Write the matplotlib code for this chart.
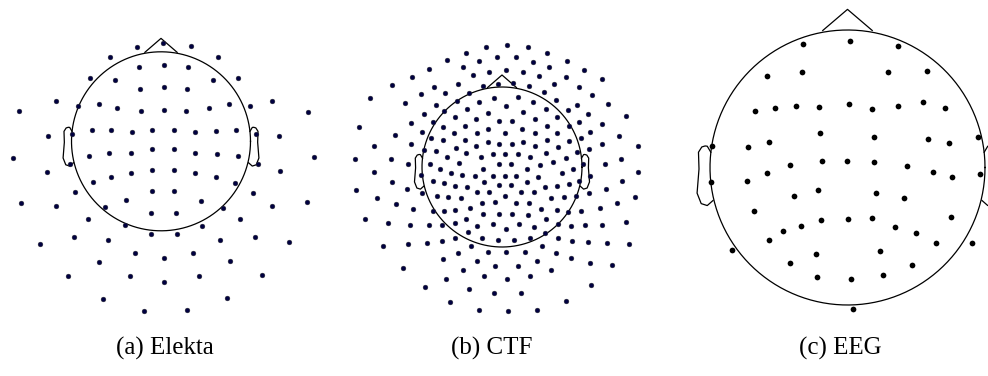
import numpy as np
import matplotlib
matplotlib.use("Agg")
import matplotlib.pyplot as plt

# sensor positions (pixel coordinates, y down)
elekta_xy = [
    (136.7, 46.7), (191, 46.3), (163.3, 42.7),
    (110, 56.7), (217.7, 56.7),
    (139.3, 67.3), (163.5, 64.7), (187.7, 67.3),
    (90, 78), (237.7, 78), (114.7, 80), (213, 80),
    (140, 89.3), (163.5, 86.7), (186.7, 89.3),
    (56, 100.7), (272.3, 101), (77.7, 106), (250.3, 106), (98.7, 103.7), (229, 103.7),
    (117.3, 108), (209.3, 108), (141, 110.7), (163.5, 110), (185.7, 110.7), (18.7, 111.3), (308.3, 111.7),
    (48.3, 135.7), (279.3, 136), (71.7, 134.3), (255.7, 134.3), (91.7, 130), (236, 130),
    (111.3, 130.3), (216, 130.7), (132, 131.7), (195, 131.7), (152.3, 130), (173.7, 130),
    (12.7, 157.7), (314, 157.3), (70, 164), (257.7, 163.7), (89.3, 156), (238, 156.3),
    (109.3, 153.3), (217.3, 153.7), (131, 153), (195.3, 152.7), (152.3, 149.3), (173.7, 149.3),
    (47.3, 171.7), (280.3, 171.3), (111, 176.7), (216, 177.3), (131.3, 173.3), (195, 173.3), (152.3, 170), (173.7, 170),
    (92.7, 182.3), (235, 183), (75.3, 192.3), (252.7, 192.7), (152, 190.7), (174.3, 191),
    (20.7, 203), (307, 201.7), (56.3, 206.3), (271.7, 205.7), (126, 200), (200.7, 200.7),
    (105, 207.3), (222.7, 207.7), (150.7, 212.7), (176, 213),
    (88.3, 219), (239.7, 219), (124.7, 225.3), (202.3, 225.7), (73.7, 237.3), (254.7, 236.7),
    (108.3, 240.3), (219.7, 240.3), (150.7, 233.7), (176.7, 234),
    (39.7, 243.7), (289, 241.7), (134.7, 253.3), (193, 253.3), (163.5, 257.5), (98.7, 262), (230, 261.3),
    (67.7, 276.3), (261.7, 274.7), (130, 276.3), (198.7, 276), (163.5, 281.7),
    (103.3, 299.3), (227, 298.3), (143.7, 311), (186.7, 310.3),
]

ctf_xy = [
    # upper left
    (486, 46.7), (466, 52.7), (446.7, 60), (479.3, 61.3), (429.3, 69.3), (463.3, 66.7), (488.7, 71.7),
    (412, 77.3), (473.3, 75.3), (392, 85.3), (434.3, 86.7), (458, 84.3), (483.3, 85.7),
    (420.7, 94.3), (445.3, 93.3), (468.7, 93), (370, 98), (405, 103), (435.7, 104.7), (456.7, 101), (478.7, 102.3),
    (424.3, 113.7), (444.3, 111), (466.7, 109.3), (488, 112.7), (410.7, 123), (433.3, 122.3), (455.3, 117.3), (476, 119),
    (358.7, 127.3), (394.7, 135.3), (422.3, 132), (442.7, 126.7), (465.3, 126.3), (488, 128.7),
    (431.3, 138.3), (454.3, 133), (476.7, 133.3), (374.3, 145.7), (410.7, 143.7), (443.3, 140), (465.3, 140.3), (487.7, 142.3),
    (424.3, 150), (436, 151.3), (456, 147.7), (476, 146.3), (354.7, 158.7), (391, 158.7), (407.7, 164), (430, 164.3),
    (447.3, 157.3), (466, 153.3), (481.3, 157.3), (440, 169.3), (458.7, 162.7), (483.3, 168.7),
    (374.3, 172), (420.7, 174.5), (451, 173.3), (461.7, 175), (475, 175.5),
    # upper right
    (506.7, 45), (527.7, 47.3), (497.3, 57.3), (516, 57.3), (547.3, 53.3), (533.3, 61.7), (566.7, 61),
    (506, 70), (522.7, 71.7), (549.3, 67), (539, 75.7), (566, 77.3), (584.3, 70),
    (498, 84), (513.3, 83.3), (528.7, 86), (554.3, 84), (578.7, 87), (601.7, 78.7),
    (494, 97.7), (517.7, 97.3), (533.3, 101.7), (544, 92.3), (556, 100.3), (592.3, 95.3),
    (505.7, 106.3), (523.3, 112.3), (545.7, 109), (567.7, 110.3), (577.3, 104.7), (608.3, 103.7),
    (499, 121), (512, 121), (535.3, 119), (556.7, 117.3), (579, 122), (588, 114), (626, 116),
    (505.3, 133), (522.3, 128.7), (546.7, 126), (569, 126.3), (590.3, 132.3), (602.3, 123.7),
    (499.3, 144), (511.7, 144), (523.3, 141.7), (535, 133), (535, 146), (546.7, 140), (556.7, 132.7),
    (569, 141), (580.7, 138), (602.3, 144), (618.7, 136), (638, 145.7),
    (493.3, 154.3), (505.3, 154.3), (517.7, 154), (530, 157.3), (546, 153), (557.7, 147.3), (553, 162),
    (566, 157.7), (576.7, 151.7), (588.7, 149.3), (621.3, 158.7),
    (499.3, 164), (511.3, 164.3), (527.3, 169), (540, 164.7), (561.7, 172.7), (572.7, 169.3), (583, 164),
    (605, 164), (638, 171.7),
    (493.3, 175.5), (505, 175.5), (516, 175.5), (537.7, 176.5), (590, 175.5),
    # lower left
    (391.7, 181.7), (356, 189.7), (406.7, 189), (422, 193.3), (433.3, 181), (444, 183.3), (454.7, 186.3),
    (466.7, 187.3), (484.3, 181.7), (477.3, 191.7), (377.3, 198.3), (437.3, 196.3), (448.3, 196.7),
    (460.7, 198), (482.3, 202.7), (395.7, 204.3), (413, 209), (432.7, 211.3), (444, 211.3), (455, 210),
    (470.3, 208.3), (483.3, 214.3), (365, 219), (388, 223.3), (410.3, 225.3), (429, 225.3), (442.3, 225),
    (454.7, 223), (466, 218.7), (468, 232), (477.3, 225.7), (482, 238.3), (383.3, 245.7), (407.7, 244.3),
    (426.7, 243), (442, 241), (455.3, 237.7), (471, 246), (487.7, 252), (457.7, 253.3), (443, 258.7),
    (476.7, 261), (403.3, 267.7), (462.7, 270), (484.3, 276.3), (445.7, 279.3), (425, 287.3),
    (469, 289.3), (450.3, 302), (478.7, 310.3),
    # lower right
    (526.7, 181.7), (568.7, 183.7), (579.3, 181), (621.7, 181), (499.3, 185), (511.3, 185), (545.3, 187.3),
    (556.7, 186.3), (606.3, 188.7), (489, 191.7), (505.3, 196), (521.3, 192.3), (533.7, 191.7),
    (550.7, 197.7), (564, 197.3), (576, 196), (589.3, 193), (617, 203), (635.3, 196.7),
    (495, 202.3), (516, 203), (528.7, 203), (541, 208.7), (557.3, 210.3), (568.3, 212.3), (580.7, 211),
    (600.3, 208), (499, 214.3), (512, 214), (528.3, 215), (545.7, 219.3), (492.7, 224.3), (506, 228.7),
    (519, 224.3), (534.3, 226.7), (558, 224), (571, 225.7), (584.7, 225), (602.3, 225), (625.7, 221.7),
    (544.7, 232.7), (498.3, 240), (513.7, 240), (530.3, 238.3), (557.7, 237.7), (571.7, 241),
    (587.7, 242), (606.7, 242.7), (628.7, 244), (542, 246.3), (506.3, 252), (525, 252.3), (555.7, 253.3),
    (571, 258), (590, 262.7), (612.3, 265), (495, 265.7), (518.3, 266), (537, 261), (551.3, 270),
    (507, 279), (530, 276), (591, 285.3), (494, 293.3), (520.7, 293.3), (566, 301), (508, 311.3), (537.3, 309.7),
]

eeg_xy = [
    (803, 44.3), (766.7, 76.3), (802.3, 72), (754.7, 111), (774.7, 108), (796, 106), (818.7, 106.7),
    (820, 132.7), (711.7, 146.3), (748, 146.7), (768.7, 142), (790, 164.5), (821.7, 161.3),
    (850.3, 40.7), (898.3, 45.7), (887.7, 72), (927.3, 70.7), (848.7, 104), (872, 108.7), (898.3, 105.7),
    (923, 102.3), (945.3, 107.7), (874.3, 137.3), (928, 139.3), (949.3, 143.3), (977.7, 137.3),
    (847.3, 161.3), (873.7, 162), (907.3, 166),
    (766.7, 172.7), (710.7, 182.3), (746.7, 181), (794.3, 196), (818.3, 190), (754.3, 211.3), (820.7, 220),
    (801, 225.7), (783, 231), (769.3, 240.3), (732, 250.3), (816.3, 254), (790, 263), (817, 276.7),
    (933.3, 172), (952.3, 177), (980.3, 174), (875.7, 193.3), (903.7, 198.3), (848, 219.3), (872, 218),
    (894.7, 226.7), (915.7, 233.3), (950.7, 216.7), (935.7, 243), (971.7, 243.3), (880.3, 251.3),
    (911.7, 265.3), (850.7, 279), (883, 275), (853, 309.3),
]

captions = ["(a) Elekta", "(b) CTF", "(c) EEG"]
caption_x = [165, 492, 840]
head_centers = [(161, 141.3), (502, 167), (847.5, 167.5)]
head_radii = [89.5, 80, 137.5]

W, H = 988, 376
fig = plt.figure(figsize=(W / 100, H / 100), dpi=100)

ear_x = np.array([.497, .510, .518, .5299, .5419, .54, .547, .532, .510, .489])
ear_y = np.array([.0555, .0775, .0783, .0746, .0555, -.0055, -.0932, -.1313, -.1384, -.1199])


def panel(x0, x1):
    ax = fig.add_axes([x0 / W, 0, (x1 - x0) / W, 1])
    ax.set_xlim(x0, x1)
    ax.set_ylim(H, 0)
    ax.axis('off')
    return ax


def head(ax, cx, cy, r):
    t = np.linspace(0, 2 * np.pi, 400)
    ax.plot(cx + r * np.cos(t), cy + r * np.sin(t), color='k', lw=0.9)
    ax.plot(cx + np.array([-0.18, 0, 0.18]) * r,
            cy - np.array([r - 0.5, 1.15 * r, r - 0.5]), color='k', lw=0.9)
    for s in (-1, 1):
        ax.plot(cx + s * ear_x * 2 * r, cy - ear_y * 2 * r, color='k', lw=0.9)


spans = [(0, 330), (335, 660), (680, 1020)]
layouts = [elekta_xy, ctf_xy, eeg_xy]
for i, (x0, x1) in enumerate(spans):
    ax = panel(x0, x1)
    cx, cy = head_centers[i]
    head(ax, cx, cy, head_radii[i])
    pts = np.array(layouts[i])
    if i < 2:
        ax.scatter(pts[:, 0], pts[:, 1], s=12, c='#000040', edgecolors='#333333',
                   linewidths=0.3, zorder=3)
    else:
        ax.scatter(pts[:, 0], pts[:, 1], s=17, c='k', linewidths=0, zorder=3)
    ax.text(caption_x[i], 348, captions[i], ha='center', va='center',
            fontsize=18, family='Liberation Serif')

fig.savefig('out.png', dpi=100)
